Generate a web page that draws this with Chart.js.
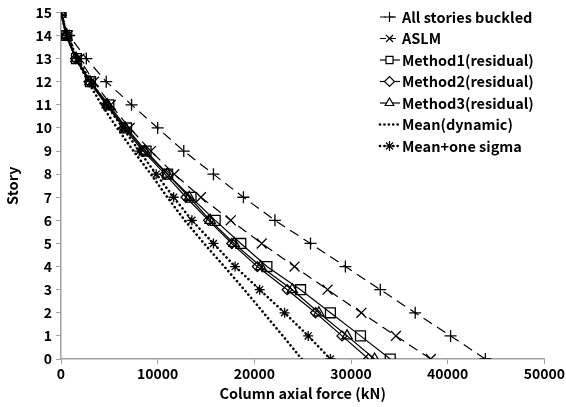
<!DOCTYPE html>
<html>
<head>
<meta charset="utf-8">
<script src="https://cdn.jsdelivr.net/npm/chart.js"></script>
<style>
  html, body { margin: 0; padding: 0; background: #fff; }
  #wrap { width: 566px; height: 407px; }
</style>
</head>
<body>
<div id="wrap"><canvas id="storyChart"></canvas></div>
<script>
// story numbers, bottom to top
var stories = [0,1,2,3,4,5,6,7,8,9,10,11,12,13,14,15];

// column axial force (kN) per story
var allBuckled = [43900,40300,36640,33030,29420,25810,22130,18870,15770,12700,10000,7300,4680,2620,850,0];
var aslm       = [38250,34640,31070,27570,24160,20760,17560,14470,11720,9300,7100,5150,3400,1900,700,0];
var method1    = [34060,30980,27870,24780,21300,18600,15950,13450,11030,8800,6780,4950,3050,1600,600,0];
var method2    = [31820,29070,26330,23400,20310,17670,15260,12930,10760,8500,6500,4700,2900,1500,500,0];
var method3    = [32440,29590,26670,23920,20660,17910,15430,13270,11000,8650,6650,4800,3000,1550,550,0];
var meanDyn    = [24900,22950,20960,18960,16900,14800,12800,11000,9300,7500,5800,4200,2800,1600,600,0];
var meanSigma  = [27870,25570,23130,20550,18010,15770,13540,11650,9850,8100,6400,4700,3100,1700,600,0];

var xTicks = [0,10000,20000,30000,40000,50000];

function pts(arr) {
    return arr.map(function (v, i) { return { x: v, y: stories[i] }; });
}

var FONT = "'Noto Sans CJK KR', 'Noto Sans', sans-serif";

function series(label, arr, dash, style, width, radius) {
    return {
        label: label,
        data: pts(arr),
        showLine: true,
        fill: false,
        borderColor: '#000',
        backgroundColor: 'rgba(0,0,0,0)',
        borderWidth: width,
        borderDash: dash,
        borderCapStyle: width > 2 ? 'round' : 'butt',
        pointStyle: style,
        pointRadius: style ? radius : 0,
        pointBorderColor: '#000',
        pointBorderWidth: 1.3,
        pointBackgroundColor: 'rgba(0,0,0,0)'
    };
}

// legend drawn inside plot area, top right
var innerLegend = {
    id: 'innerLegend',
    afterDraw: function (chart) {
        var ctx = chart.ctx;
        var x0 = 379;
        var y0 = 17;
        var step = 21.5;
        chart.data.datasets.forEach(function (ds, i) {
            var y = y0 + i * step;
            ctx.save();
            ctx.strokeStyle = '#000';
            ctx.lineWidth = ds.borderWidth;
            ctx.lineCap = ds.borderCapStyle;
            ctx.setLineDash(ds.borderDash.length ? (ds.borderWidth > 2 ? ds.borderDash : [6, 4]) : []);
            ctx.beginPath();
            ctx.moveTo(x0 + 1, y);
            ctx.lineTo(x0 + 21, y);
            ctx.stroke();
            ctx.setLineDash([]);
            ctx.lineCap = 'butt';
            if (ds.pointStyle) {
                ctx.fillStyle = '#fff';
                ctx.lineWidth = 1.2;
                Chart.helpers.drawPoint(ctx, {
                    pointStyle: ds.pointStyle,
                    radius: Math.min(ds.pointRadius, 5),
                    borderWidth: 1.2
                }, x0 + 10.5, y);
            }
            ctx.fillStyle = '#000';
            ctx.font = 'bold 14.5px ' + FONT;
            ctx.textBaseline = 'middle';
            ctx.fillText(ds.label, x0 + 23, y);
            ctx.restore();
        });
    }
};

new Chart("storyChart", {
    type: 'scatter',
    data: {
        datasets: [
            series('All stories buckled', allBuckled, [10, 6], 'cross', 1.2, 6),
            series('ASLM', aslm, [10, 6], 'crossRot', 1.2, 7),
            series('Method1(residual)', method1, [], 'rect', 1.2, 7),
            series('Method2(residual)', method2, [], 'rectRot', 1.2, 5),
            series('Method3(residual)', method3, [], 'triangle', 1.2, 6),
            series('Mean(dynamic)', meanDyn, [0.1, 4.3], false, 2.6, 0),
            series('Mean+one sigma', meanSigma, [0.1, 4.3], 'star', 2.6, 5)
        ]
    },
    plugins: [innerLegend],
    options: {
        responsive: true,
        maintainAspectRatio: false,
        animation: false,
        layout: { padding: { top: 6, right: 0, left: 0, bottom: 0 } },
        plugins: {
            legend: { display: false },
            tooltip: { enabled: false }
        },
        scales: {
            x: {
                type: 'linear',
                min: 0,
                max: 50000,
                afterBuildTicks: function (axis) {
                    axis.ticks = xTicks.map(function (v) { return { value: v }; });
                },
                afterFit: function (scale) { scale.height = 48; },
                grid: {
                    drawOnChartArea: false,
                    color: '#a0a0a0',
                    tickLength: 5
                },
                border: { color: '#a0a0a0', width: 1.5 },
                ticks: {
                    color: '#000',
                    font: { family: FONT, size: 14, weight: 'bold' },
                    maxRotation: 0,
                    padding: 1,
                    callback: function (v) { return String(v); }
                },
                title: {
                    display: true,
                    text: 'Column axial force (kN)',
                    color: '#000',
                    font: { family: FONT, size: 14.5, weight: 'bold' },
                    padding: { top: 0, bottom: 5 }
                }
            },
            y: {
                type: 'linear',
                min: 0,
                max: 15,
                afterFit: function (scale) { scale.width = 61; },
                ticks: {
                    stepSize: 1,
                    color: '#000',
                    font: { family: FONT, size: 14, weight: 'bold' },
                    padding: 4
                },
                grid: {
                    drawOnChartArea: false,
                    color: '#a0a0a0',
                    tickLength: 5
                },
                border: { color: '#a0a0a0', width: 1.5 },
                title: {
                    display: true,
                    text: 'Story',
                    color: '#000',
                    font: { family: FONT, size: 14.5, weight: 'bold' },
                    padding: { top: 4, bottom: 4 }
                }
            }
        }
    }
});
</script>
</body>
</html>
